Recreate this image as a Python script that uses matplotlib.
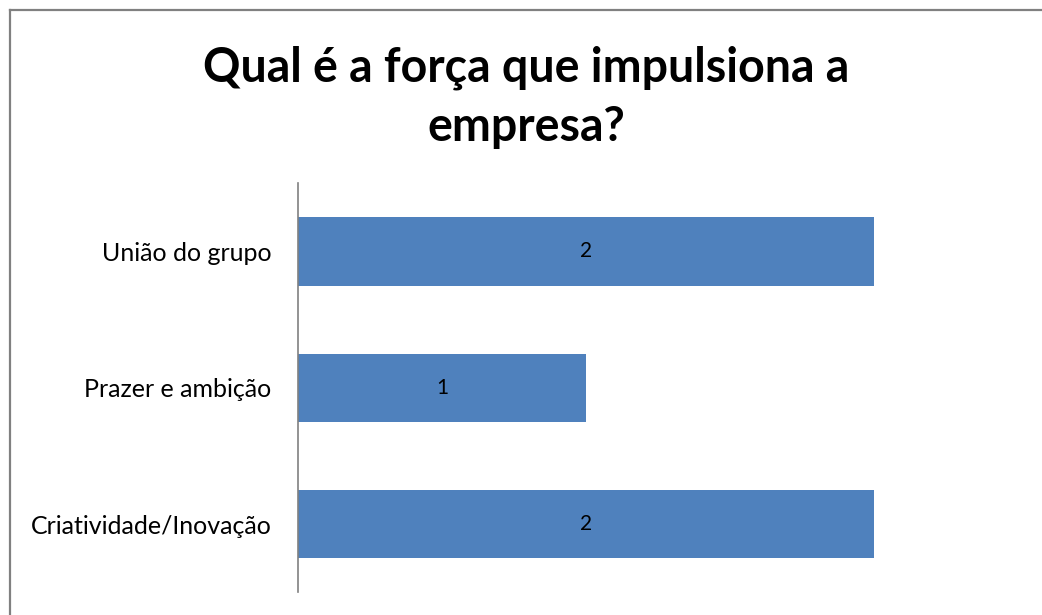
import matplotlib.pyplot as plt
from matplotlib.lines import Line2D

# Data
categories = ['Criatividade/Inovação', 'Prazer e ambição', 'União do grupo']
values = [2, 1, 2]
title = 'Qual é a força que impulsiona a\nempresa?'

fig = plt.figure(figsize=(10.42, 6.15), dpi=100)
ax = fig.add_axes([0.286, 0.037, 0.691, 0.665])

bars = ax.barh(categories, values, height=0.5, color='#4F81BD')
ax.set_xlim(0, 2.5)
ax.set_ylim(-0.5, len(categories) - 0.5)

# value labels inside the bars
for rect, v in zip(bars, values):
    ax.text(rect.get_x() + rect.get_width() / 2, rect.get_y() + rect.get_height() / 2,
            str(v), ha='center', va='center', fontsize=15, family='Lato', color='black')

for side in ['top', 'right', 'bottom']:
    ax.spines[side].set_visible(False)
ax.spines['left'].set_color('#808080')
ax.spines['left'].set_linewidth(1.2)
ax.set_xticks([])
ax.tick_params(axis='y', length=0, pad=19)
for lab in ax.get_yticklabels():
    lab.set_fontfamily('Lato')
    lab.set_fontsize(18)
    lab.set_color('black')

fig.text(0.505, 0.842, title, ha='center', va='center', fontsize=33.5,
         fontweight='bold', family='Lato', linespacing=1.42)

# chart border (left and top only visible)
fig.add_artist(Line2D([0.0096, 0.0096], [0, 0.984], transform=fig.transFigure,
                      color='#808080', linewidth=1.6))
fig.add_artist(Line2D([0.0096, 1.0], [0.984, 0.984], transform=fig.transFigure,
                      color='#808080', linewidth=1.6))

fig.savefig('out.png', dpi=100)
